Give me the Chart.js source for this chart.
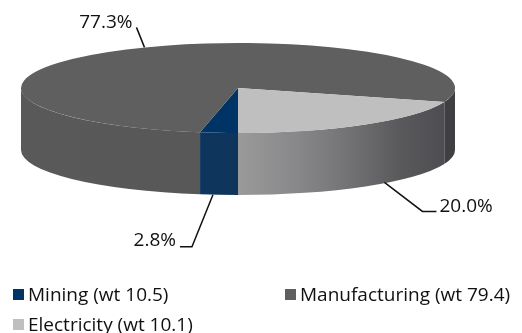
<!DOCTYPE html>
<html>
<head>
<meta charset="utf-8">
<script src="https://cdn.jsdelivr.net/npm/chart.js@4.4.1/dist/chart.umd.min.js"></script>
<style>
  html, body { margin: 0; padding: 0; background: #fff; }
  #wrap { width: 522px; height: 333px; }
</style>
</head>
<body>
<div id="wrap"><canvas id="pieChart" width="522" height="333"></canvas></div>
<script>
const categories = ['Mining', 'Manufacturing', 'Electricity'];
const weights = [10.5, 79.4, 10.1];
const shares = [2.8, 77.3, 20.0];

const sliceColors = ['#003366', '#5f5f5f', '#bfbfbf'];
const labelFont = '19px "Open Sans", sans-serif';

// where the squashed pie sits on the canvas
const CX = 238, CY = 88, RX = 217, RY = 45, DEPTH = 62;

// side wall shading: how far each slice colour is pulled toward dark grey, left to right
const sideDark = [58, 58, 62];
const sideStops = [[0, 0.15], [0.4, 0.2], [0.5, 0.28], [0.64, 0.42], [0.72, 0.53], [0.8, 0.65], [0.87, 0.76], [1, 0.87]];

// leader line placement for each percentage label
const leaderLayout = [
  { shift: [-6, 0], elbow: [-21, 52], tail: -12, dy: -1 },
  { shift: [18, -2], elbow: [-8, -20], tail: 0, dy: 1 },
  { shift: [19, -4], elbow: [38, 29], tail: 14, dy: 1 },
];

function shade(hex, k) {
  const n = parseInt(hex.slice(1), 16);
  const c = [(n >> 16) & 255, (n >> 8) & 255, n & 255];
  const m = c.map((v, j) => Math.round(v + (sideDark[j] - v) * k));
  return `rgb(${m[0]},${m[1]},${m[2]})`;
}

function drawSide(ctx, a, b, color) {
  const grad = ctx.createLinearGradient(CX - RX, 0, CX + RX, 0);
  sideStops.forEach(([t, k]) => grad.addColorStop(t, shade(color, k)));
  ctx.beginPath();
  ctx.ellipse(CX, CY, RX, RY, 0, a, b, false);
  ctx.ellipse(CX, CY + DEPTH, RX, RY, 0, b, a, true);
  ctx.closePath();
  ctx.fillStyle = grad;
  ctx.fill();
}

const pie3d = {
  id: 'pie3d',
  beforeDatasetsDraw(chart) {
    const ctx = chart.ctx;
    const arcs = chart.getDatasetMeta(0).data;
    arcs.forEach((arc, i) => {
      const { startAngle, endAngle } = arc.getProps(['startAngle', 'endAngle'], true);
      [-2 * Math.PI, 0, 2 * Math.PI].forEach((off) => {
        const a = Math.max(startAngle, off);
        const b = Math.min(endAngle, off + Math.PI);
        if (b > a) drawSide(ctx, a - off, b - off, sliceColors[i]);
      });
    });
    const { x, y, outerRadius } = arcs[0].getProps(['x', 'y', 'outerRadius'], true);
    ctx.save();
    ctx.translate(CX, CY);
    ctx.scale(RX / outerRadius, RY / outerRadius);
    ctx.translate(-x, -y);
  },
  afterDatasetsDraw(chart) {
    const ctx = chart.ctx;
    ctx.restore();
    const arcs = chart.getDatasetMeta(0).data;
    ctx.save();
    ctx.font = labelFont;
    ctx.fillStyle = '#111';
    ctx.strokeStyle = '#111';
    ctx.lineWidth = 1.5;
    ctx.textBaseline = 'alphabetic';
    arcs.forEach((arc, i) => {
      const { startAngle, endAngle } = arc.getProps(['startAngle', 'endAngle'], true);
      let mid = ((startAngle + endAngle) / 2) % (2 * Math.PI);
      if (mid < 0) mid += 2 * Math.PI;
      const front = Math.sin(mid) > 0;
      const lay = leaderLayout[i];
      const ax = CX + RX * Math.cos(mid) + lay.shift[0];
      const ay = CY + RY * Math.sin(mid) + (front ? DEPTH : 0) + lay.shift[1];
      const ex = ax + lay.elbow[0];
      const ey = ay + lay.elbow[1];
      const tx = ex + lay.tail;
      ctx.beginPath();
      ctx.moveTo(ax, ay);
      ctx.lineTo(ex, ey);
      ctx.lineTo(tx, ey);
      ctx.stroke();
      const left = lay.tail < 0 || (lay.tail === 0 && lay.elbow[0] < 0);
      ctx.textAlign = left ? 'right' : 'left';
      ctx.fillText(`${shares[i].toFixed(1)}%`, tx + (left ? -4 : 3), ey + lay.dy);
    });
    ctx.restore();
  },
  afterDraw(chart) {
    // legend: two columns, filled row by row
    const ctx = chart.ctx;
    ctx.save();
    ctx.font = labelFont;
    ctx.textAlign = 'left';
    ctx.textBaseline = 'alphabetic';
    categories.forEach((name, i) => {
      const col = i % 2;
      const row = Math.floor(i / 2);
      const bx = col === 0 ? 13 : 285;
      const base = 301 + row * 30;
      ctx.fillStyle = sliceColors[i];
      ctx.fillRect(bx, base - 12, 11, 11);
      ctx.fillStyle = '#111';
      ctx.fillText(`${name} (wt ${weights[i]})`, bx + 15, base);
    });
    ctx.restore();
  },
};

new Chart(document.getElementById('pieChart'), {
  type: 'pie',
  data: {
    labels: categories,
    datasets: [{
      data: shares,
      backgroundColor: sliceColors,
      borderWidth: 0,
      clip: false,
    }],
  },
  options: {
    responsive: false,
    devicePixelRatio: 1,
    animation: false,
    events: [],
    rotation: 180,
    layout: { padding: 0 },
    plugins: {
      legend: { display: false },
      tooltip: { enabled: false },
    },
  },
  plugins: [pie3d],
});
</script>
</body>
</html>
